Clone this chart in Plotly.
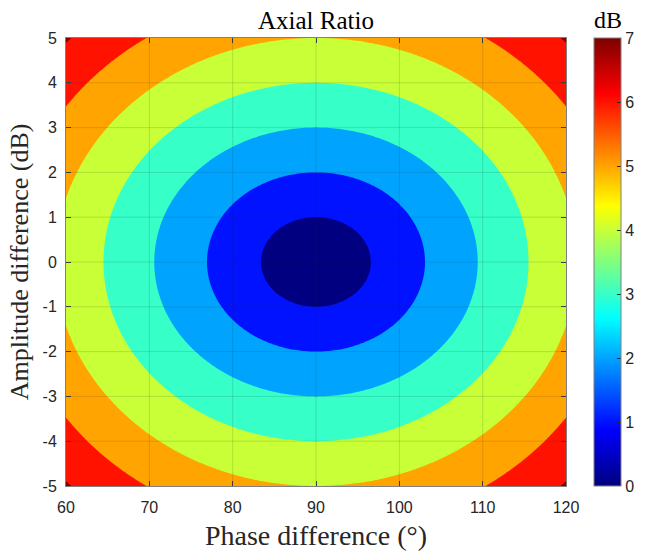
import numpy as np
import plotly.graph_objects as go

# ---- data ----
phase_deg = np.linspace(60, 120, 301)      # x axis: phase difference (deg)
amp_db = np.linspace(-5, 5, 251)           # y axis: amplitude difference (dB)
contour_levels = [1, 2, 3, 4, 5, 6, 7]     # dB
x_ticks = [60, 70, 80, 90, 100, 110, 120]
y_ticks = [-5, -4, -3, -2, -1, 0, 1, 2, 3, 4, 5]
y_tick_text = ["-5", "-4", "-3", "-2", "-1", "0", "1", "2", "3", "4", "5"]
cbar_ticks = [0, 1, 2, 3, 4, 5, 6, 7]

# axial ratio (dB) of two orthogonal components with given amplitude ratio and phase difference
P, A = np.meshgrid(np.deg2rad(phase_deg), amp_db)
k = 10 ** (A / 20)
root = np.sqrt(1 + k**4 + 2 * k**2 * np.cos(2 * P))
ar = np.sqrt((1 + k**2 + root) / np.maximum(1 + k**2 - root, 1e-12))
ar_db = 20 * np.log10(ar)

# ---- style ----
def jet(v):
    r = np.clip(min(4 * v - 1.5, -4 * v + 4.5), 0, 1)
    g = np.clip(min(4 * v - 0.5, -4 * v + 3.5), 0, 1)
    b = np.clip(min(4 * v + 0.5, -4 * v + 2.5), 0, 1)
    return "rgb(%d,%d,%d)" % (round(r * 255), round(g * 255), round(b * 255))

cmax = 7.0
jet_scale = [[i / 64, jet(i / 64)] for i in range(65)]

# discrete band colours: band [k, k+1] gets jet(k/7); bands: <1, 1-2, ..., 6-7, >7
nb = len(contour_levels) + 1
band_cols = [jet(i / cmax) for i in range(nb)]
step_scale = []
for i, c in enumerate(band_cols):
    lo = 0 if i == 0 else (i - 0.5) / (nb - 1)
    hi = 1 if i == nb - 1 else (i + 0.5) / (nb - 1)
    step_scale.append([lo, c])
    step_scale.append([hi, c])

serif = "Liberation Serif, Times New Roman, serif"
sans = "Liberation Sans, Arial, sans-serif"
txt = "#262626"

W, H = 651, 552
L, R, T, B = 66, 85, 38, 66
pw = W - L - R

fig = go.Figure()
fig.add_trace(go.Contour(
    x=phase_deg, y=amp_db, z=ar_db,
    contours=dict(start=contour_levels[0], end=contour_levels[-1], size=1, coloring="fill", showlines=False),
    colorscale=step_scale, showscale=False, line=dict(width=0), hoverinfo="skip",
))
fig.add_trace(go.Scatter(
    x=[90], y=[0], mode="markers", hoverinfo="skip", showlegend=False,
    marker=dict(size=0.1, opacity=0, color=[0], colorscale=jet_scale, cmin=0, cmax=cmax, showscale=True,
                colorbar=dict(
                    thickness=27, thicknessmode="pixels", len=1, lenmode="fraction",
                    xref="paper", x=(594 - L) / pw, xanchor="left", xpad=0,
                    yref="paper", y=0, yanchor="bottom", ypad=0,
                    tickvals=cbar_ticks, ticks="inside", ticklen=4, tickcolor=txt,
                    tickfont=dict(family=sans, size=16, color=txt),
                    outlinecolor="#808080", outlinewidth=1,
                )),
))

fig.add_annotation(text="dB", xref="paper", yref="paper", x=(608 - L) / pw, y=1 + 18 / (H - T - B),
                   xanchor="center", yanchor="middle", showarrow=False,
                   font=dict(family=serif, size=24, color="#000"))

# grid lines drawn above the filled contours (as in the reference)
for xv in x_ticks[1:-1]:
    fig.add_shape(type="line", xref="x", yref="paper", x0=xv, x1=xv, y0=0, y1=1,
                  line=dict(color="rgba(38,38,38,0.15)", width=1), layer="above")
for yv in y_ticks[1:-1]:
    fig.add_shape(type="line", xref="paper", yref="y", x0=0, x1=1, y0=yv, y1=yv,
                  line=dict(color="rgba(38,38,38,0.15)", width=1), layer="above")

axis_common = dict(showgrid=False, zeroline=False, showline=True, linecolor="#808080", linewidth=1,
                   mirror="ticks", ticks="inside", ticklen=5, tickcolor="#404040", automargin=False,
                   tickfont=dict(family=sans, size=16, color=txt), layer="above traces")
fig.update_xaxes(range=[60, 120], tickvals=x_ticks, ticklabelstandoff=7, **axis_common,
                 title=dict(text="Phase difference (°)", font=dict(family=serif, size=28, color=txt), standoff=10))
fig.update_yaxes(range=[-5, 5], tickvals=y_ticks, ticktext=y_tick_text, ticklabelstandoff=5, **axis_common,
                 title=dict(text="Amplitude difference (dB)", font=dict(family=serif, size=26, color=txt), standoff=6))

fig.update_layout(
    width=W, height=H,
    margin=dict(l=L, r=R, t=T, b=B),
    paper_bgcolor="white", plot_bgcolor="white",
    title=dict(text="Axial Ratio", x=316 / W, xanchor="center", y=1 - 20 / H, yanchor="middle",
               font=dict(family=serif, size=25, color="#000")),
    showlegend=False,
)
fig.write_html("out.html")
